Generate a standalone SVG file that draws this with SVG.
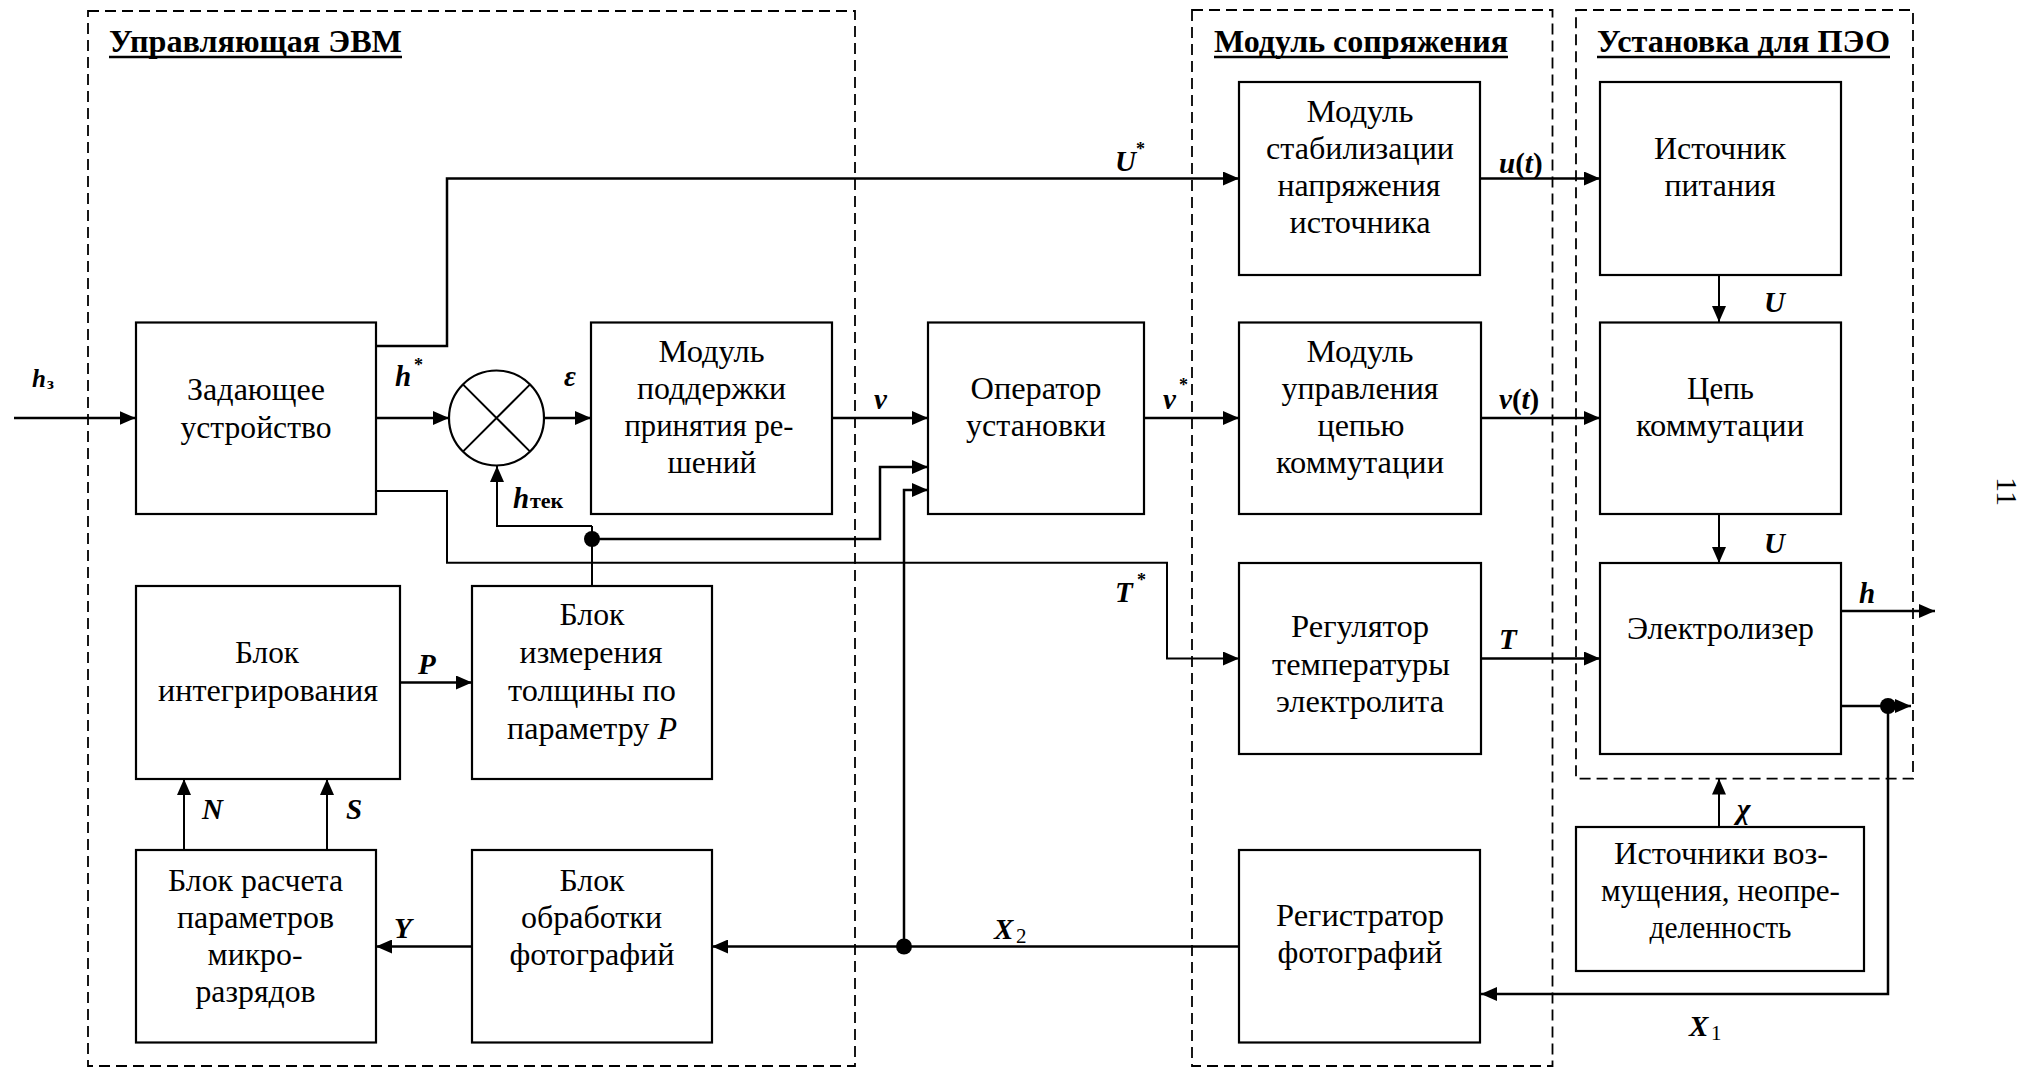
<svg xmlns="http://www.w3.org/2000/svg" width="2022" height="1068" viewBox="0 0 2022 1068" font-family="'Liberation Serif', 'Times New Roman', serif">
<defs>
<style>
.bg{fill:#fff}
.box{fill:#fff;stroke:#000;stroke-width:2.2}
.grp{fill:none;stroke:#000;stroke-width:1.8;stroke-dasharray:11 6}
.ln{fill:none;stroke:#000;stroke-width:2.5}
.thin{fill:none;stroke:#000;stroke-width:2}
.arr{marker-end:url(#ah)}
.dot{fill:#000}
text{font-family:'Liberation Serif','Times New Roman',serif;fill:#000}
.t{font-size:32px;text-anchor:middle}
.ttl{font-size:31px;font-weight:bold}
.lb{font-size:29px;font-weight:bold;font-style:italic}
.sup{font-size:18px;font-weight:bold}
.sub{font-size:20px;font-weight:bold}
.ul{stroke:#000;stroke-width:2.5}
</style>
<marker id="ah" markerWidth="16" markerHeight="14" refX="16" refY="7" orient="auto" markerUnits="userSpaceOnUse">
<path d="M0,0 L16,7 L0,14 z" fill="#000"/>
</marker>
</defs>
<rect class="bg" x="0" y="0" width="2022" height="1068"/>

<g id="groups">
<g id="grp-evm">
<rect class="grp" x="88" y="11" width="767" height="1055"/>
<text class="ttl" x="109" y="52" textLength="293" lengthAdjust="spacingAndGlyphs">Управляющая ЭВМ</text>
<line class="ul" x1="109" y1="57" x2="402" y2="57"/>
</g>
<g id="grp-sopr">
<rect class="grp" x="1192" y="10" width="360.5" height="1056"/>
<text class="ttl" x="1214" y="52" textLength="294" lengthAdjust="spacingAndGlyphs">Модуль сопряжения</text>
<line class="ul" x1="1214" y1="57" x2="1508" y2="57"/>
</g>
<g id="grp-ust">
<rect class="grp" x="1576" y="10" width="337" height="768.6"/>
<text class="ttl" x="1597" y="52" textLength="293" lengthAdjust="spacingAndGlyphs">Установка для ПЭО</text>
<line class="ul" x1="1597" y1="57" x2="1890" y2="57"/>
</g>
</g>

<g id="connectors">
<path class="ln arr" d="M14,418 H135.5"/>
<path class="ln arr" d="M376,418 H449"/>
<path class="ln arr" d="M544,418 H591"/>
<path class="ln arr" d="M832,418 H928"/>
<path class="ln arr" d="M1144,418 H1239"/>
<path class="ln arr" d="M1481,418 H1600"/>
<path class="ln arr" d="M376,346 H447 V178.5 H1239"/>
<path class="ln arr" d="M1480,178.5 H1600"/>
<path class="thin arr" d="M1719,275 V322"/>
<path class="thin arr" d="M1719,514 V563"/>
<path class="thin arr" d="M376,491 H447 V562.7 H1167 V658.5 H1239"/>
<path class="ln arr" d="M1481,658.5 H1600"/>
<path class="ln arr" d="M1841,611 H1935"/>
<path class="ln arr" d="M1841,706 H1911"/>
<path class="ln arr" d="M1888,706 V994 H1481"/>
<path class="thin arr" d="M1719,827 V778.6"/>
<path class="ln arr" d="M1239,946.5 H712"/>
<path class="ln arr" d="M904,946.5 V490 H928"/>
<path class="ln arr" d="M472,946.5 H376"/>
<path class="thin arr" d="M184,850 V779"/>
<path class="thin arr" d="M327,850 V779"/>
<path class="ln arr" d="M400,682.5 H472"/>
<path class="thin" d="M592,586 V526"/>
<path class="thin arr" d="M592,526 H497 V466"/>
<path class="ln arr" d="M592,539 H880 V467 H928"/>
<circle class="dot" cx="592" cy="539" r="8"/>
<circle class="dot" cx="904" cy="946.5" r="8"/>
<circle class="dot" cx="1888" cy="706" r="8"/>
</g>

<g id="labels">
<text class="lb" x="32" y="387" style="font-size:25px">h</text><text class="sub" x="47" y="389" style="font-size:17px">з</text>
<text class="lb" x="395" y="386">h</text><text class="sup" x="414" y="371">*</text>
<text class="lb" x="564" y="386">ε</text>
<text class="lb" x="874" y="409">v</text>
<text class="lb" x="1163" y="409">v</text><text class="sup" x="1179" y="391">*</text>
<text class="lb" x="1115" y="171">U</text><text class="sup" x="1136" y="155">*</text>
<text class="lb" x="1499" y="173">u<tspan font-style="normal">(</tspan>t<tspan font-style="normal">)</tspan></text>
<text class="lb" x="1499" y="409">v<tspan font-style="normal">(</tspan>t<tspan font-style="normal">)</tspan></text>
<text class="lb" x="1764" y="312">U</text>
<text class="lb" x="1764" y="553">U</text>
<text class="lb" x="1115" y="602">T</text><text class="sup" x="1137" y="586">*</text>
<text class="lb" x="1499" y="649">T</text>
<text class="lb" x="1859" y="603">h</text>
<text class="lb" x="1737" y="819">χ</text>
<text class="lb" x="1689" y="1036">X</text><text class="sub" x="1711" y="1040" style="font-weight:normal;font-size:21px">1</text>
<text class="lb" x="994" y="939">X</text><text class="sub" x="1016" y="943" style="font-weight:normal;font-size:21px">2</text>
<text class="lb" x="394" y="938">Y</text>
<text class="lb" x="202" y="819">N</text>
<text class="lb" x="346" y="819">S</text>
<text class="lb" x="418" y="674">P</text>
<text class="lb" x="513" y="508">h</text><text class="sub" x="530" y="508" style="font-size:22px">тек</text>
</g>

<g id="n-zad"><rect class="box" x="136" y="322.5" width="240" height="191.5"/>
<text class="t" x="256" y="400" textLength="138" lengthAdjust="spacingAndGlyphs">Задающее</text><text class="t" x="256" y="437.5" textLength="151" lengthAdjust="spacingAndGlyphs">устройство</text></g>

<g id="n-sum"><circle class="box" cx="496.5" cy="418" r="47.5"/>
<path class="thin" d="M462.9,384.4 L530.1,451.6 M530.1,384.4 L462.9,451.6"/></g>

<g id="n-mpr"><rect class="box" x="591" y="322.5" width="241" height="191.5"/>
<text class="t" x="711.5" y="362" textLength="106" lengthAdjust="spacingAndGlyphs">Модуль</text><text class="t" x="711.5" y="399" textLength="149" lengthAdjust="spacingAndGlyphs">поддержки</text><text class="t" x="709" y="436" textLength="169" lengthAdjust="spacingAndGlyphs">принятия ре-</text><text class="t" x="712" y="473" textLength="89" lengthAdjust="spacingAndGlyphs">шений</text></g>

<g id="n-oper"><rect class="box" x="928" y="322.5" width="216" height="191.5"/>
<text class="t" x="1036" y="399" textLength="131" lengthAdjust="spacingAndGlyphs">Оператор</text><text class="t" x="1036" y="436" textLength="140" lengthAdjust="spacingAndGlyphs">установки</text></g>

<g id="n-mstab"><rect class="box" x="1239" y="82" width="241" height="193"/>
<text class="t" x="1360" y="122" textLength="107" lengthAdjust="spacingAndGlyphs">Модуль</text><text class="t" x="1360" y="159" textLength="188" lengthAdjust="spacingAndGlyphs">стабилизации</text><text class="t" x="1359" y="196" textLength="163" lengthAdjust="spacingAndGlyphs">напряжения</text><text class="t" x="1360" y="233" textLength="141" lengthAdjust="spacingAndGlyphs">источника</text></g>

<g id="n-mupr"><rect class="box" x="1239" y="322.5" width="242" height="191.5"/>
<text class="t" x="1360" y="362" textLength="107" lengthAdjust="spacingAndGlyphs">Модуль</text><text class="t" x="1360" y="399" textLength="157" lengthAdjust="spacingAndGlyphs">управления</text><text class="t" x="1361" y="436" textLength="87" lengthAdjust="spacingAndGlyphs">цепью</text><text class="t" x="1360" y="473" textLength="168" lengthAdjust="spacingAndGlyphs">коммутации</text></g>

<g id="n-ist"><rect class="box" x="1600" y="82" width="241" height="193"/>
<text class="t" x="1720" y="159" textLength="132" lengthAdjust="spacingAndGlyphs">Источник</text><text class="t" x="1720" y="196" textLength="111" lengthAdjust="spacingAndGlyphs">питания</text></g>

<g id="n-cep"><rect class="box" x="1600" y="322.5" width="241" height="191.5"/>
<text class="t" x="1720.5" y="399" textLength="67" lengthAdjust="spacingAndGlyphs">Цепь</text><text class="t" x="1720" y="436" textLength="168" lengthAdjust="spacingAndGlyphs">коммутации</text></g>

<g id="n-bint"><rect class="box" x="136" y="586" width="264" height="193"/>
<text class="t" x="267" y="663" textLength="64" lengthAdjust="spacingAndGlyphs">Блок</text><text class="t" x="268" y="701" textLength="220" lengthAdjust="spacingAndGlyphs">интегрирования</text></g>

<g id="n-bizm"><rect class="box" x="472" y="586" width="240" height="193"/>
<text class="t" x="592" y="625" textLength="65" lengthAdjust="spacingAndGlyphs">Блок</text><text class="t" x="591" y="663" textLength="143" lengthAdjust="spacingAndGlyphs">измерения</text><text class="t" x="592" y="701" textLength="168" lengthAdjust="spacingAndGlyphs">толщины по</text><text class="t" x="592" y="738.5" textLength="170" lengthAdjust="spacingAndGlyphs">параметру <tspan font-style="italic">P</tspan></text></g>

<g id="n-brasch"><rect class="box" x="136" y="850" width="240" height="192.5"/>
<text class="t" x="255.5" y="890.5" textLength="175" lengthAdjust="spacingAndGlyphs">Блок расчета</text><text class="t" x="255.5" y="927.5" textLength="157" lengthAdjust="spacingAndGlyphs">параметров</text><text class="t" x="255" y="964.5" textLength="95" lengthAdjust="spacingAndGlyphs">микро-</text><text class="t" x="255.5" y="1002" textLength="120" lengthAdjust="spacingAndGlyphs">разрядов</text></g>

<g id="n-bobr"><rect class="box" x="472" y="850" width="240" height="192.5"/>
<text class="t" x="592" y="890.5" textLength="65" lengthAdjust="spacingAndGlyphs">Блок</text><text class="t" x="591.5" y="927.5" textLength="141" lengthAdjust="spacingAndGlyphs">обработки</text><text class="t" x="592" y="964.5" textLength="165" lengthAdjust="spacingAndGlyphs">фотографий</text></g>

<g id="n-reg"><rect class="box" x="1239" y="563" width="242" height="191"/>
<text class="t" x="1360" y="637" textLength="138" lengthAdjust="spacingAndGlyphs">Регулятор</text><text class="t" x="1361" y="674.5" textLength="178" lengthAdjust="spacingAndGlyphs">температуры</text><text class="t" x="1360" y="712" textLength="168" lengthAdjust="spacingAndGlyphs">электролита</text></g>

<g id="n-elec"><rect class="box" x="1600" y="563" width="241" height="191"/>
<text class="t" x="1720.5" y="639" textLength="187" lengthAdjust="spacingAndGlyphs">Электролизер</text></g>

<g id="n-regf"><rect class="box" x="1239" y="850" width="241" height="192.5"/>
<text class="t" x="1360" y="925.5" textLength="168" lengthAdjust="spacingAndGlyphs">Регистратор</text><text class="t" x="1360" y="962.5" textLength="165" lengthAdjust="spacingAndGlyphs">фотографий</text></g>

<g id="n-istv"><rect class="box" x="1576" y="827" width="288" height="144"/>
<text class="t" x="1721" y="864" textLength="214" lengthAdjust="spacingAndGlyphs">Источники воз-</text><text class="t" x="1720.5" y="901" textLength="239" lengthAdjust="spacingAndGlyphs">мущения, неопре-</text><text class="t" x="1720.5" y="938" textLength="142" lengthAdjust="spacingAndGlyphs">деленность</text></g>

<text style="font-size:30px" transform="translate(1997,477) rotate(90)">11</text>
</svg>
